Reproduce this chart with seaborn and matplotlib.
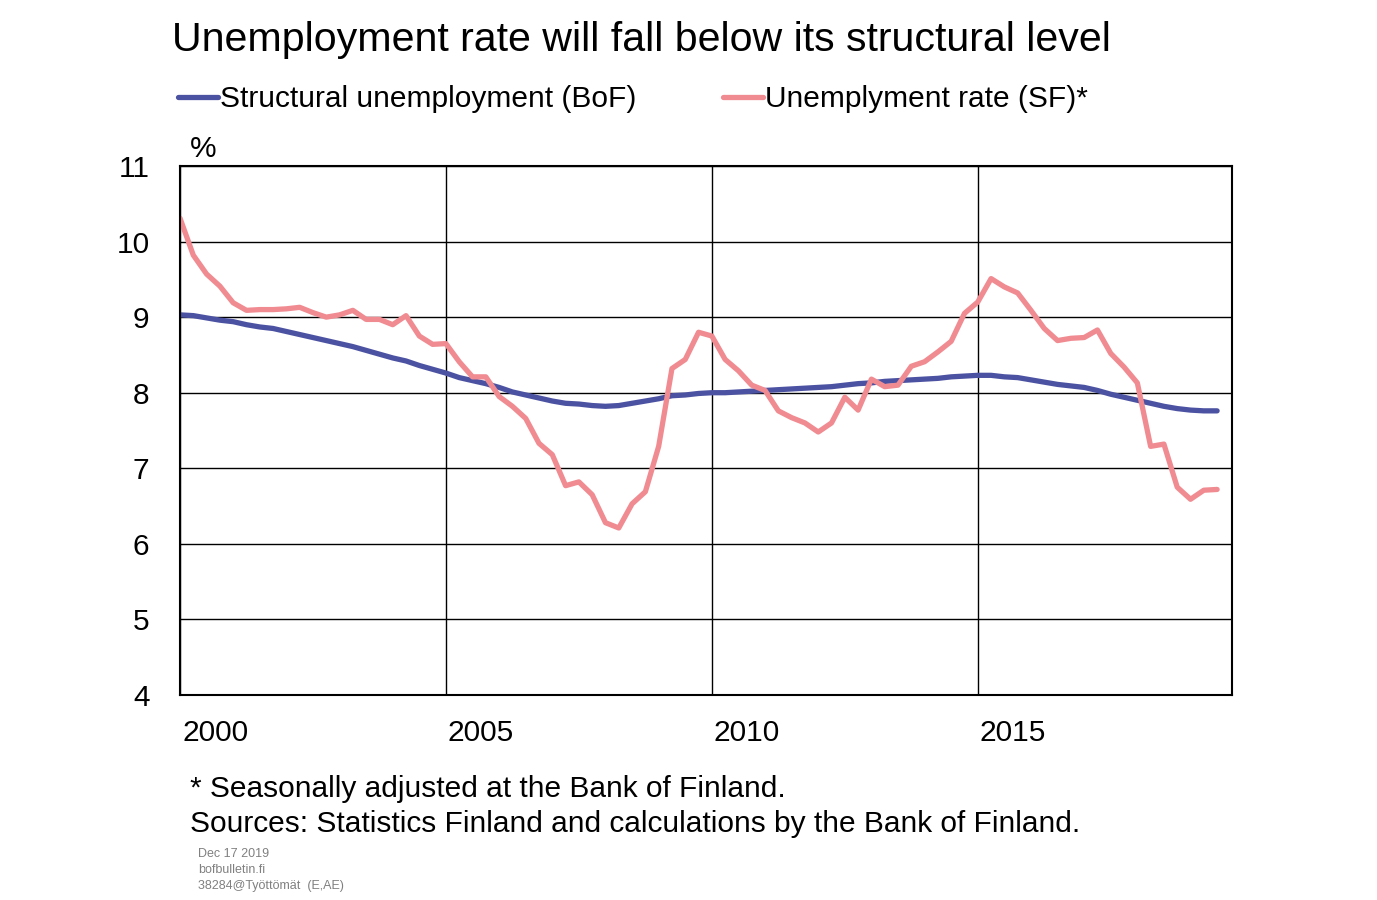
import numpy as np
import pandas as pd
import matplotlib
matplotlib.use("Agg")
import matplotlib.pyplot as plt
import matplotlib.transforms as mtransforms
import seaborn as sns

# quarterly data, 2000Q1 .. 2019Q3
unemployment = [10.31, 9.82, 9.57, 9.41, 9.19, 9.09, 9.10, 9.10, 9.11, 9.13,
                9.06, 9.00, 9.03, 9.09, 8.97, 8.97, 8.90, 9.02, 8.75, 8.64,
                8.65, 8.41, 8.21, 8.21, 7.95, 7.82, 7.66, 7.33, 7.18, 6.77,
                6.82, 6.65, 6.28, 6.21, 6.53, 6.69, 7.29, 8.32, 8.44, 8.80,
                8.75, 8.44, 8.29, 8.10, 8.03, 7.76, 7.67, 7.60, 7.48, 7.60,
                7.94, 7.77, 8.18, 8.08, 8.10, 8.35, 8.41, 8.54, 8.68, 9.05,
                9.20, 9.51, 9.40, 9.32, 9.09, 8.85, 8.69, 8.72, 8.73, 8.83,
                8.52, 8.34, 8.13, 7.29, 7.32, 6.75, 6.59, 6.71, 6.72]
structural = [9.03, 9.02, 8.99, 8.96, 8.94, 8.90, 8.87, 8.85, 8.81, 8.77,
              8.73, 8.69, 8.65, 8.61, 8.56, 8.51, 8.46, 8.42, 8.36, 8.31,
              8.26, 8.20, 8.16, 8.12, 8.07, 8.01, 7.97, 7.93, 7.89, 7.86,
              7.85, 7.83, 7.82, 7.83, 7.86, 7.89, 7.92, 7.96, 7.97, 7.99,
              8.00, 8.00, 8.01, 8.02, 8.03, 8.04, 8.05, 8.06, 8.07, 8.08,
              8.10, 8.12, 8.13, 8.15, 8.16, 8.17, 8.18, 8.19, 8.21, 8.22,
              8.23, 8.23, 8.21, 8.20, 8.17, 8.14, 8.11, 8.09, 8.07, 8.03,
              7.98, 7.94, 7.90, 7.86, 7.82, 7.79, 7.77, 7.76, 7.76]
years = [2000, 2005, 2010, 2015]
lab_struct = "Structural unemployment (BoF)"
lab_unemp = "Unemplyment rate (SF)*"

t = 2000 + np.arange(len(unemployment)) / 4
df = pd.DataFrame({
    "t": np.concatenate([t, t]),
    "value": structural + unemployment,
    "series": [lab_struct] * len(t) + [lab_unemp] * len(t),
})

sns.set_style("white")
plt.rcParams["font.family"] = ["Liberation Sans", "DejaVu Sans"]
plt.rcParams["text.color"] = "black"
plt.rcParams["xtick.color"] = "black"
plt.rcParams["ytick.color"] = "black"

fig = plt.figure(figsize=(13.77, 9), dpi=100)
ax = fig.add_axes([180 / 1377, 1 - 695 / 900, 1052 / 1377, 529 / 900])

sns.lineplot(data=df, x="t", y="value", hue="series", ax=ax,
             palette={lab_struct: "#4c52a2", lab_unemp: "#f08b91"},
             linewidth=3.8, legend=False)

ax.set_xlim(2000, 2019.78)
ax.set_ylim(4, 11)
ax.set_xticks(years)
ax.set_xticklabels([str(y) for y in years])
ax.set_yticks(range(4, 12))
ax.grid(True, color="black", linewidth=1)
ax.set_axisbelow(True)
for s in ax.spines.values():
    s.set_color("black")
    s.set_linewidth(1.5)
ax.tick_params(axis="both", length=0, labelsize=21.5)
ax.tick_params(axis="x", pad=17)
ax.tick_params(axis="y", pad=22)
offset = mtransforms.ScaledTranslation(2 / 100, 0, fig.dpi_scale_trans)
for lab in ax.get_xticklabels():
    lab.set_horizontalalignment("left")
    lab.set_transform(lab.get_transform() + offset)
ax.set_xlabel("")
ax.set_ylabel("")

ax.text(10 / 1052, 1.005, "%", transform=ax.transAxes, fontsize=21.5,
        ha="left", va="bottom")

fig.text(172 / 1377, 1 - 40 / 900, "Unemployment rate will fall below its structural level",
         fontsize=29.6, ha="left", va="center")

handles = [plt.Line2D([], [], color="#4c52a2", linewidth=3.8),
           plt.Line2D([], [], color="#f08b91", linewidth=3.8)]
fig.legend(handles, [lab_struct, lab_unemp], loc="center left",
           bbox_to_anchor=(178 / 1377, 1 - 99 / 900), ncol=2, frameon=False,
           fontsize=21.5, handlelength=1.35, handletextpad=0.05, columnspacing=2.9,
           borderaxespad=0, borderpad=0)

fig.text(190 / 1377, 1 - 789 / 900, "* Seasonally adjusted at the Bank of Finland.",
         fontsize=21.5, ha="left", va="center")
fig.text(190 / 1377, 1 - 824 / 900,
         "Sources: Statistics Finland and calculations by the Bank of Finland.",
         fontsize=21.5, ha="left", va="center")
for k, s in enumerate(["Dec 17 2019", "bofbulletin.fi", "38284@Työttömät  (E,AE)"]):
    fig.text(198 / 1377, 1 - (854 + 16 * k) / 900, s, fontsize=9,
             color="#808080", ha="left", va="center")

fig.savefig("out.png", dpi=100)
